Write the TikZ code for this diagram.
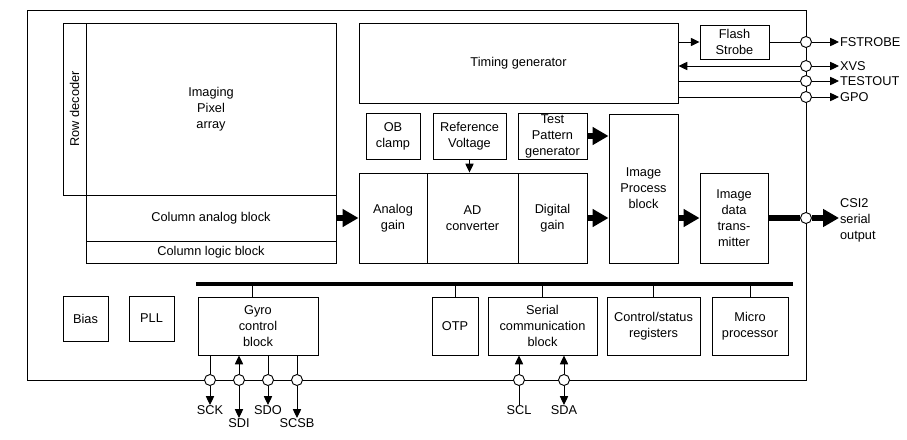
\documentclass[tikz,border=0pt]{standalone}
\usepackage{fontspec}
\setmainfont{Liberation Sans}
\usetikzlibrary{arrows.meta,calc}

\begin{document}
\begin{tikzpicture}[x=0.3mm,y=-0.3mm,line width=0.8pt,
  every node/.style={font=\fontsize{10.9}{13.6}\selectfont},
  blk/.style 2 args={draw,rectangle,inner sep=0pt,align=center,
    minimum width=#1*0.3mm,minimum height=#2*0.3mm},
  pin/.style={draw,circle,fill=white,inner sep=0pt,minimum size=3.3mm},
  lbl/.style={inner sep=0.5pt},
  sig/.style={-{Triangle[length=7.5pt,width=7pt]}},
  thk/.style={line width=4.3pt,-{Triangle[length=13.5pt,width=14.5pt]}},
  bus/.style={line width=3.4pt}]
\useasboundingbox (0,0) rectangle (907,439);

\node[blk={779}{370}] (chip) at (416.5,195) {};

\node[blk={250}{172}] (pixel) at (211,109) {Imaging\\Pixel\\array};
\node[blk={172}{23},rotate=90] (rowdec) at (74.5,109) {Row decoder};
\node[blk={250}{46}] (colana) at (211,218) {Column analog block};
\node[blk={250}{22}] (collog) at (211,252) {Column logic block};

\node[blk={319}{80}] (timing) at (518.5,63) {Timing generator};
\node[blk={69}{34}] (flash) at (734.5,42) {Flash\\Strobe};

\node[blk={54}{46}] (obclamp) at (393,136) {OB\\clamp};
\node[blk={73}{46}] (refvolt) at (469.5,136) {Reference\\Voltage};
\node[blk={69}{46}] (testpat) at (552.5,136) {Test\\Pattern\\generator};
\node[blk={68}{90}] (again) at (393,218) {Analog\\gain};
\node[blk={91}{90}] (adc) at (472.5,218) {AD\\converter};
\node[blk={69}{90}] (dgain) at (552.5,218) {Digital\\gain};
\node[blk={69}{149}] (improc) at (643.5,188.5) {Image\\Process\\block};
\node[blk={68}{90}] (imtx) at (734,218) {Image\\data\\trans-\\mitter};

\node[blk={45}{45}] (bias) at (85.5,318.5) {Bias};
\node[blk={45}{45}] (pll) at (151.5,318.5) {PLL};
\node[blk={120}{58}] (gyro) at (258,326) {Gyro\\control\\block};
\node[blk={46}{58}] (otp) at (455,326) {OTP};
\node[blk={109}{58}] (serial) at (542.5,326) {Serial\\communication\\block};
\node[blk={93}{58}] (ctrl) at (653.5,326) {Control/status\\registers};
\node[blk={76}{58}] (micro) at (750,326) {Micro\\processor};

\node[pin] (pFS) at (806,42) {};
\node[pin] (pXVS) at (806,66) {};
\node[pin] (pTO) at (806,81) {};
\node[pin] (pGPO) at (806,97) {};
\node[pin] (pCSI) at (806,218) {};
\node[pin] (pSCK) at (210,380) {};
\node[pin] (pSDI) at (239,380) {};
\node[pin] (pSDO) at (268,380) {};
\node[pin] (pSCSB) at (297,380) {};
\node[pin] (pSCL) at (519,380) {};
\node[pin] (pSDA) at (564,380) {};

\node[lbl,anchor=west] (lFS) at (839,42) {FSTROBE};
\node[lbl,anchor=west] (lXVS) at (839,66) {XVS};
\node[lbl,anchor=west] (lTO) at (839,81) {TESTOUT};
\node[lbl,anchor=west] (lGPO) at (839,97) {GPO};
\node[lbl,anchor=west,align=left] (lCSI) at (839,220) {CSI2\\serial\\output};
\node[lbl,anchor=north] (lSCK) at (210,405) {SCK};
\node[lbl,anchor=north] (lSDI) at (239,418) {SDI};
\node[lbl,anchor=north] (lSDO) at (268,405) {SDO};
\node[lbl,anchor=north] (lSCSB) at (297,418) {SCSB};
\node[lbl,anchor=north] (lSCL) at (519,405) {SCL};
\node[lbl,anchor=north] (lSDA) at (564,405) {SDA};

\draw[sig] (timing.east |- flash) -- (flash.west);
\draw (flash) -- (pFS);
\draw[sig] (pXVS) -- (timing.east |- pXVS);
\draw (timing.east |- pTO) -- (pTO);
\draw (timing.east |- pGPO) -- (pGPO);
\foreach \p/\l in {pFS/lFS,pXVS/lXVS,pTO/lTO,pGPO/lGPO}
  \draw[sig] (\p) -- (\l);

\draw[thk] (colana) -- (again);
\draw[thk] (testpat.east) -- (testpat.east -| improc.west);
\draw[thk] (dgain) -- (dgain -| improc.west);
\draw[thk] (imtx -| improc.east) -- (imtx);
\draw[line width=4.3pt] (imtx) -- (pCSI);
\draw[thk] (pCSI) -- (pCSI -| lCSI.west);
\draw[sig] (refvolt.south) -- (refvolt.south |- adc.north);

\coordinate (busL) at (196,284);
\coordinate (busR) at (793,284);
\draw ([xshift=-1.8mm]gyro.north) -- ([xshift=-1.8mm]gyro.north |- busL);
\foreach \b in {otp,serial,ctrl,micro}
  \draw (\b.north) -- (\b.north |- busL);
\draw[bus] (busL) -- (busR);

\foreach \p/\l in {pSCK/lSCK,pSDO/lSDO,pSCSB/lSCSB}{
  \draw (gyro.south -| \p) -- (\p);
  \draw[sig] (\p) -- (\p |- \l.north);
}
\draw[sig] (pSDI) -- (gyro.south -| pSDI);
\draw[sig] (pSDI) -- (pSDI |- lSDI.north);
\draw[sig] (pSCL) -- (serial.south -| pSCL);
\draw (pSCL) -- (pSCL |- lSCL.north);
\draw[sig] (pSDA) -- (serial.south -| pSDA);
\draw[sig] (pSDA) -- (pSDA |- lSDA.north);
\end{tikzpicture}
\end{document}
